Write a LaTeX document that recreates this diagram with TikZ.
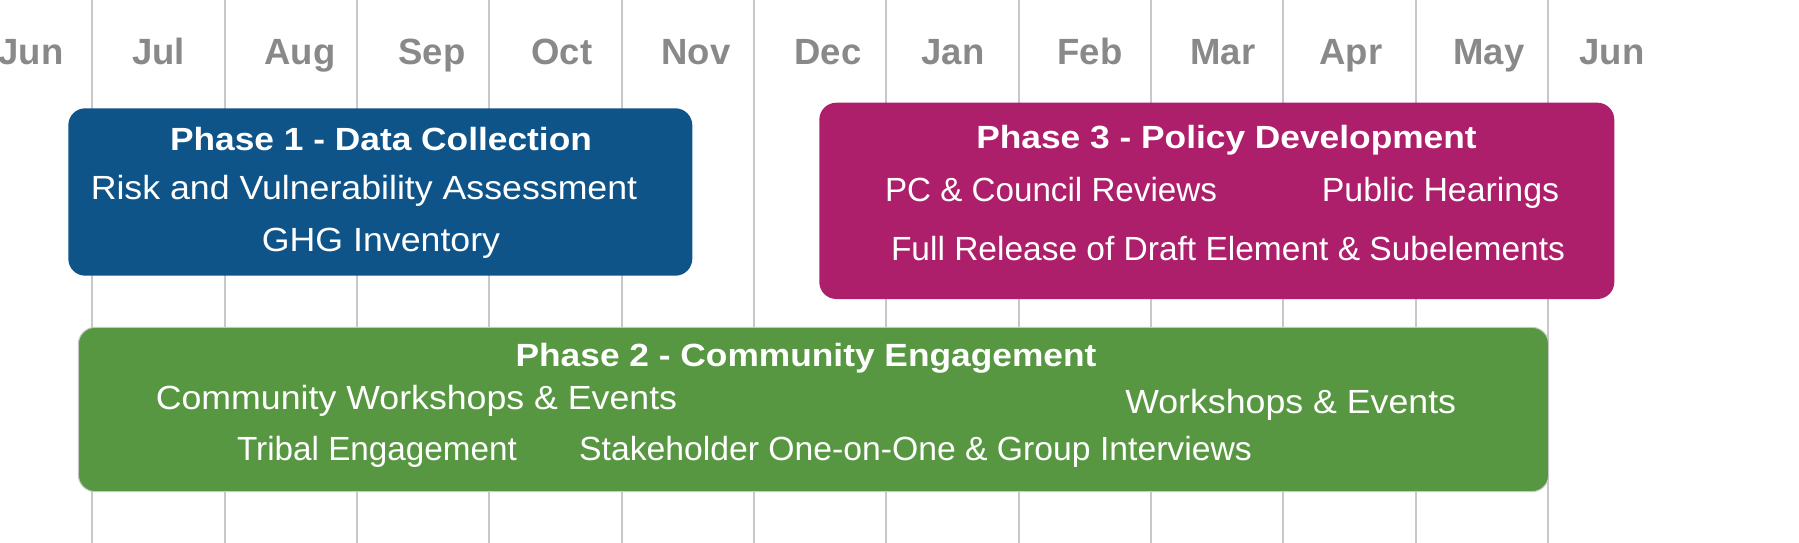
\documentclass[tikz,border=0pt]{standalone}
\usepackage{fontspec}
\setmainfont{Liberation Sans}
\newfontfamily\regfont{Liberation Sans}[FakeStretch=1.066]
\newfontfamily\ttlfont{Liberation Sans}[FakeStretch=1.10]
\newfontfamily\monfont{Liberation Sans}
\definecolor{gridgray}{RGB}{200,200,200}
\definecolor{monthgray}{RGB}{137,137,137}
\definecolor{pblue}{RGB}{15,84,137}
\definecolor{pmag}{RGB}{174,31,107}
\definecolor{pgreen}{RGB}{88,151,66}
\newcommand{\narrowtxt}[2]{\scalebox{#1}[1]{#2}}
\begin{document}
\begin{tikzpicture}[x=1pt,y=-1pt,
  gridline/.style={draw=gridgray, line width=2pt},
  phase/.style={rounded corners=17pt, inner sep=0pt, outer sep=0pt, draw=none},
  ttl/.style={text=white, anchor=base, inner sep=0pt, font=\ttlfont\bfseries\fontsize{32.1}{38}\selectfont},
  item/.style={text=white, anchor=base, inner sep=0pt, font=\regfont\fontsize{33.5}{40}\selectfont},
  month/.style={text=monthgray, anchor=base, inner sep=0pt, font=\monfont\bfseries\fontsize{36.5}{43}\selectfont}]
\useasboundingbox (0,0) rectangle (1799,543);
% grid lines
\foreach \k in {0,...,11} {
  \draw[gridline] ({92.3+132.34*\k},0) -- ({92.3+132.34*\k},543);
}
% month labels
\node[month] (m0) at (31,65) {Jun};
\node[month] (m1) at (158.5,65) {Jul};
\node[month] (m2) at (300,65) {Aug};
\node[month] (m3) at (432,65) {Sep};
\node[month] (m4) at (562,65) {Oct};
\node[month] (m5) at (696,65) {Nov};
\node[month] (m6) at (828,65) {Dec};
\node[month] (m7) at (953,65) {Jan};
\node[month] (m8) at (1090,65) {Feb};
\node[month] (m9) at (1223,65) {Mar};
\node[month] (m10) at (1351,65) {Apr};
\node[month] (m11) at (1489,65) {May};
\node[month] (m12) at (1612,65) {Jun};
% phase boxes
\node[phase, fill=pblue, minimum width=624pt, minimum height=167.4pt] (p1) at (380.3,192) {};
\node[phase, fill=pmag, minimum width=795pt, minimum height=196.3pt] (p3) at (1216.8,200.85) {};
\node[phase, fill=pgreen, draw=gridgray, line width=1pt, minimum width=1470.4pt, minimum height=164.4pt] (p2) at (813.5,409.5) {};
% phase 1 texts
\node[ttl] (t1) at (381,150) {Phase 1 - Data Collection};
\node[item] (a1) at (364,199) {Risk and Vulnerability Assessment};
\node[item] (a2) at (381,251) {GHG Inventory};
% phase 3 texts
\node[ttl] (t3) at (1226.5,148.3) {Phase 3 - Policy Development};
\node[item] (c1) at (1051,201.7) {\narrowtxt{0.929}{PC \& Council Reviews}};
\node[item] (c2) at (1440.5,201.7) {\narrowtxt{0.949}{Public Hearings}};
\node[item] (c3) at (1228,260.5) {\narrowtxt{0.938}{Full Release of Draft Element \& Subelements}};
% phase 2 texts
\node[ttl] (t2) at (806,366) {Phase 2 - Community Engagement};
\node[item] (b1) at (416.5,409) {Community Workshops \& Events};
\node[item] (b2) at (1290.7,413.3) {Workshops \& Events};
\node[item] (b3) at (377,460) {\narrowtxt{0.931}{Tribal Engagement}};
\node[item] (b4) at (915.5,460) {\narrowtxt{0.944}{Stakeholder One-on-One \& Group Interviews}};
\end{tikzpicture}
\end{document}
